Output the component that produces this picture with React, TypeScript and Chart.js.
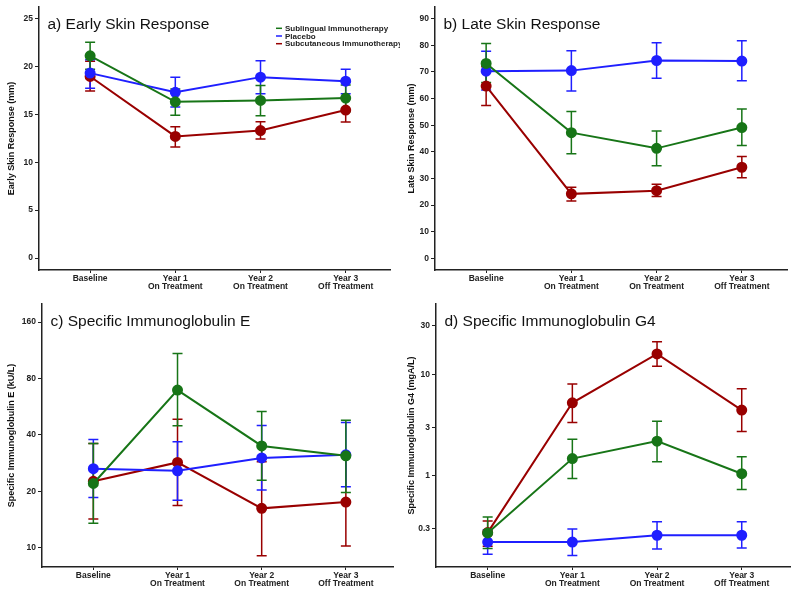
import React, { useEffect, useRef } from "react";
import { Chart, registerables } from "chart.js";
Chart.register(...registerables);

// ---------- categories / series ----------
const categories: string[][] = [
  ["Baseline"],
  ["Year 1", "On Treatment"],
  ["Year 2", "On Treatment"],
  ["Year 3", "Off Treatment"],
];
const seriesNames = ["Sublingual Immunotherapy", "Placebo", "Subcutaneous Immunotherapy"];

// ---------- a) Early Skin Response (mm) ----------
const earlySlit = [21.1, 16.3, 16.45, 16.7];
const earlySlitLow = [19.7, 14.9, 14.85, 15.26];
const earlySlitHigh = [22.53, 17.63, 18.0, 18.05];
const earlyPlacebo = [19.3, 17.3, 18.88, 18.46];
const earlyPlaceboLow = [17.73, 15.75, 17.14, 17.14];
const earlyPlaceboHigh = [20.7, 18.88, 20.6, 19.7];
const earlyScit = [18.95, 12.69, 13.3, 15.44];
const earlyScitLow = [17.42, 11.6, 12.41, 14.19];
const earlyScitHigh = [20.55, 13.7, 14.22, 16.65];
const earlyTicks = [0, 5, 10, 15, 20, 25];

// ---------- b) Late Skin Response (mm) ----------
const lateSlit = [73.2, 47.2, 41.3, 49.1];
const lateSlitLow = [66.0, 39.3, 34.8, 42.4];
const lateSlitHigh = [80.7, 55.1, 47.8, 56.1];
const latePlacebo = [70.3, 70.5, 74.3, 74.1];
const latePlaceboLow = [63.2, 62.8, 67.6, 66.7];
const latePlaceboHigh = [77.8, 78.0, 81.0, 81.7];
const lateScit = [64.7, 24.2, 25.4, 34.2];
const lateScitLow = [57.4, 21.5, 23.2, 30.3];
const lateScitHigh = [72.0, 26.7, 27.8, 38.2];
const lateTicks = [0, 10, 20, 30, 40, 50, 60, 70, 80, 90];

// ---------- c) Specific IgE (kU/L) ----------
const igeSlit = [22.0, 69.3, 34.9, 30.9];
const igeSlitLow = [13.5, 44.7, 22.9, 19.7];
const igeSlitHigh = [36.0, 108.8, 53.3, 47.9];
const igePlacebo = [26.4, 25.7, 30.1, 31.3];
const igePlaceboLow = [18.5, 17.9, 20.3, 21.1];
const igePlaceboHigh = [37.8, 36.7, 44.9, 46.6];
const igeScit = [22.6, 28.5, 16.2, 17.5];
const igeScitLow = [14.2, 16.8, 9.06, 10.2];
const igeScitHigh = [36.0, 48.5, 28.7, 30.5];
const igeTicks = [10, 20, 40, 80, 160];

// ---------- d) Specific IgG4 (mgA/L) ----------
const igg4Slit = [0.274, 1.48, 2.2, 1.05];
const igg4SlitLow = [0.192, 0.94, 1.38, 0.733];
const igg4SlitHigh = [0.394, 2.3, 3.46, 1.54];
const igg4Placebo = [0.223, 0.223, 0.26, 0.26];
const igg4PlaceboLow = [0.169, 0.164, 0.19, 0.195];
const igg4PlaceboHigh = [0.295, 0.3, 0.354, 0.354];
const igg4Scit = [0.276, 5.25, 15.9, 4.45];
const igg4ScitLow = [0.202, 3.36, 12.0, 2.74];
const igg4ScitHigh = [0.36, 8.03, 21.0, 7.22];
const igg4Ticks = [0.3, 1, 3, 10, 30];

// ---------- styles ----------
const GREEN = "#177517";
const BLUE = "#1f1fff";
const RED = "#990000";
const AXIS = "#222222";
const FONT = "'Liberation Sans', Arial, Helvetica, sans-serif";

const errorBarPlugin = {
  id: "errorBars",
  beforeDatasetsDraw(chart: any) {
    const ctx = chart.ctx;
    const ys = chart.scales.y;
    const n = chart.data.datasets.length;
    for (let di = n - 1; di >= 0; di--) {
      const ds: any = chart.data.datasets[di];
      const meta = chart.getDatasetMeta(di);
      ctx.save();
      ctx.strokeStyle = ds.borderColor;
      ctx.lineWidth = 1.5;
      meta.data.forEach((pt: any, i: number) => {
        const lo = ys.getPixelForValue(ds.errLow[i]);
        const hi = ys.getPixelForValue(ds.errHigh[i]);
        ctx.beginPath();
        ctx.moveTo(pt.x, lo);
        ctx.lineTo(pt.x, hi);
        ctx.moveTo(pt.x - 5, lo);
        ctx.lineTo(pt.x + 5, lo);
        ctx.moveTo(pt.x - 5, hi);
        ctx.lineTo(pt.x + 5, hi);
        ctx.stroke();
      });
      ctx.restore();
    }
  },
};

const panelTextPlugin = {
  id: "panelText",
  afterDraw(chart: any, _args: any, opts: any) {
    const ctx = chart.ctx;
    const area = chart.chartArea;
    ctx.save();
    ctx.fillStyle = "#111";
    ctx.font = `15.5px ${FONT}`;
    ctx.textBaseline = "middle";
    ctx.textAlign = "left";
    ctx.fillText(opts.title, area.left + 8.5, area.top + 18);
    if (opts.legend) {
      const colors = [GREEN, BLUE, RED];
      ctx.font = `bold 8px ${FONT}`;
      seriesNames.forEach((name, i) => {
        const y = area.top + 21.3 + i * 7.7;
        ctx.strokeStyle = colors[i];
        ctx.lineWidth = 1.5;
        ctx.beginPath();
        ctx.moveTo(area.right - 114, y);
        ctx.lineTo(area.right - 108, y);
        ctx.stroke();
        ctx.fillStyle = "#222";
        ctx.fillText(name, area.right - 105, y + 0.5);
      });
    }
    ctx.restore();
  },
};

type PanelSpec = {
  title: string;
  yTitle: string;
  yType: "linear" | "logarithmic";
  yMin: number;
  yMax: number;
  ticks: number[];
  series: number[][];
  lows: number[][];
  highs: number[][];
  legend: boolean;
  left: number;
  top: number;
  w: number;
  h: number;
  yWidth: number;
  padTop: number;
  padRight: number;
  xHeight: number;
  xMin: number;
  xMax: number;
};

const panels: PanelSpec[] = [
  {
    title: "a) Early Skin Response",
    yTitle: "Early Skin Response (mm)",
    yType: "linear",
    yMin: -1.25,
    yMax: 26.2,
    ticks: earlyTicks,
    series: [earlySlit, earlyPlacebo, earlyScit],
    lows: [earlySlitLow, earlyPlaceboLow, earlyScitLow],
    highs: [earlySlitHigh, earlyPlaceboHigh, earlyScitHigh],
    legend: true,
    left: 0, top: 0, w: 400, h: 296,
    yWidth: 39, padTop: 7, padRight: 10, xHeight: 26,
    xMin: -0.6, xMax: 3.52,
  },
  {
    title: "b) Late Skin Response",
    yTitle: "Late Skin Response (mm)",
    yType: "linear",
    yMin: -4.4,
    yMax: 94.4,
    ticks: lateTicks,
    series: [lateSlit, latePlacebo, lateScit],
    lows: [lateSlitLow, latePlaceboLow, lateScitLow],
    highs: [lateSlitHigh, latePlaceboHigh, lateScitHigh],
    legend: false,
    left: 400, top: 0, w: 400, h: 296,
    yWidth: 35, padTop: 7, padRight: 13, xHeight: 26,
    xMin: -0.6, xMax: 3.53,
  },
  {
    title: "c) Specific Immunoglobulin E",
    yTitle: "Specific Immunoglobulin E (kU/L)",
    yType: "logarithmic",
    yMin: 7.88,
    yMax: 199.7,
    ticks: igeTicks,
    series: [igeSlit, igePlacebo, igeScit],
    lows: [igeSlitLow, igePlaceboLow, igeScitLow],
    highs: [igeSlitHigh, igePlaceboHigh, igeScitHigh],
    legend: false,
    left: 0, top: 296, w: 400, h: 297,
    yWidth: 42, padTop: 8, padRight: 7, xHeight: 26,
    xMin: -0.61, xMax: 3.56,
  },
  {
    title: "d) Specific Immunoglobulin G4",
    yTitle: "Specific Immunoglobulin G4 (mgA/L)",
    yType: "logarithmic",
    yMin: 0.1265,
    yMax: 49.4,
    ticks: igg4Ticks,
    series: [igg4Slit, igg4Placebo, igg4Scit],
    lows: [igg4SlitLow, igg4PlaceboLow, igg4ScitLow],
    highs: [igg4SlitHigh, igg4PlaceboHigh, igg4ScitHigh],
    legend: false,
    left: 400, top: 296, w: 400, h: 297,
    yWidth: 36, padTop: 8, padRight: 10, xHeight: 26,
    xMin: -0.61, xMax: 3.57,
  },
];

function Panel({ spec }: { spec: PanelSpec }) {
  const ref = useRef<HTMLCanvasElement>(null);
  useEffect(() => {
    if (!ref.current) return;
    const colors = [GREEN, BLUE, RED];
    const orders = [0, 1, 2];
    const datasets = spec.series.map((vals, si) => ({
      label: seriesNames[si],
      data: vals.map((v, i) => ({ x: i, y: v })),
      errLow: spec.lows[si],
      errHigh: spec.highs[si],
      borderColor: colors[si],
      backgroundColor: colors[si],
      pointBackgroundColor: colors[si],
      pointBorderColor: colors[si],
      pointRadius: 4.5,
      borderWidth: 2,
      order: orders[si],
      tension: 0,
    }));
    const tickFont = { family: FONT, size: 8.5, weight: "bold" as const, lineHeight: 1.0 };
    const chart = new Chart(ref.current, {
      type: "line",
      data: { datasets: datasets as any },
      plugins: [errorBarPlugin, panelTextPlugin],
      options: {
        animation: false,
        responsive: false,
        maintainAspectRatio: false,
        layout: { padding: { top: spec.padTop, right: spec.padRight, left: 0, bottom: 0 } },
        plugins: {
          legend: { display: false },
          tooltip: { enabled: false },
          panelText: { title: spec.title, legend: spec.legend },
        } as any,
        scales: {
          x: {
            type: "linear",
            min: spec.xMin,
            max: spec.xMax,
            afterBuildTicks: (scale: any) => {
              scale.ticks = categories.map((_, i) => ({ value: i }));
            },
            afterFit: (scale: any) => {
              scale.height = spec.xHeight;
            },
            ticks: {
              color: AXIS,
              font: tickFont,
              padding: 1,
              maxRotation: 0,
              autoSkip: false,
              callback: (v: any) => categories[Math.round(Number(v))] ?? "",
            },
            grid: { display: true, drawOnChartArea: false, drawTicks: true, tickLength: 3, color: AXIS, lineWidth: 1 },
            border: { display: true, color: AXIS, width: 1.5 },
          },
          y: {
            type: spec.yType,
            min: spec.yMin,
            max: spec.yMax,
            afterBuildTicks: (scale: any) => {
              scale.ticks = spec.ticks.map((v) => ({ value: v }));
            },
            afterFit: (scale: any) => {
              scale.width = spec.yWidth;
            },
            ticks: {
              color: AXIS,
              font: tickFont,
              padding: 2,
              autoSkip: false,
              callback: (v: any) => String(v),
            },
            title: {
              display: true,
              text: spec.yTitle,
              color: "#111",
              font: { family: FONT, size: 9, weight: "bold" },
              padding: { top: 6, bottom: 0 },
            },
            grid: { display: true, drawOnChartArea: false, drawTicks: true, tickLength: 4, color: AXIS, lineWidth: 1 },
            border: { display: true, color: AXIS, width: 1.5 },
          },
        },
      } as any,
    });
    return () => chart.destroy();
  }, [spec]);
  return (
    <canvas
      ref={ref}
      width={spec.w}
      height={spec.h}
      style={{ position: "absolute", left: spec.left, top: spec.top, width: spec.w, height: spec.h }}
    />
  );
}

export default function App() {
  return (
    <div style={{ position: "fixed", left: 0, top: 0, width: 800, height: 593, background: "#fff" }}>
      {panels.map((p) => (
        <Panel key={p.title} spec={p} />
      ))}
    </div>
  );
}
